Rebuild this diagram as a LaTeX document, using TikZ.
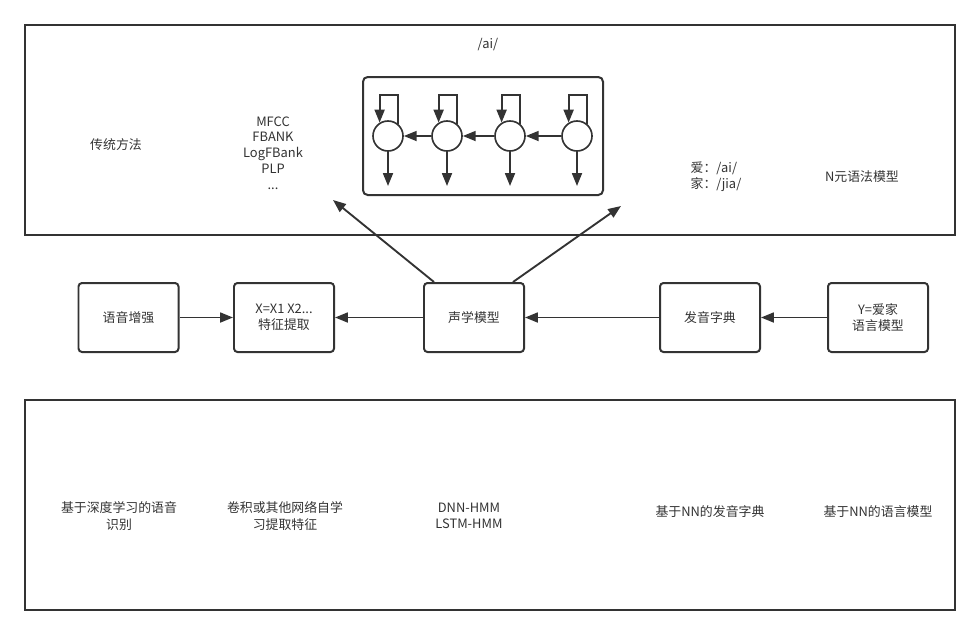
\documentclass[tikz,border=0pt]{standalone}
\usepackage{fontspec}
\setmainfont{Noto Sans CJK SC}
\usetikzlibrary{arrows.meta,calc}

\definecolor{ink}{HTML}{333333}

\tikzset{
  arr/.style={-{Triangle[length=11pt,width=8.5pt]}, line width=1.6pt, draw=ink},
  stage/.style={draw=ink, line width=1.7pt, rounded corners=3pt, minimum width=3cm,
    minimum height=2.07cm, align=center, text=ink, font=\fontsize{11}{14}\selectfont},
  label/.style={align=center, text=ink, font=\fontsize{11}{14}\selectfont},
  state/.style={circle, draw=ink, line width=1.4pt, minimum size=0.9cm, inner sep=0pt}
}

\begin{document}
\begin{tikzpicture}[x=0.03cm, y=-0.03cm]
        \useasboundingbox (0,0) rectangle (978,635);

        % Outer frames
        \draw[ink, line width=1.8pt] (25,25) rectangle (955,235);
        \draw[ink, line width=1.8pt] (25,400) rectangle (955,610);

        % Traditional method
        \node[label] (trad) at (116,145) {传统方法};
        \node[label, font=\fontsize{11}{13.5}\selectfont] (feat) at (273,153) {MFCC\\FBANK\\LogFBank\\PLP\\...};
        \node[label] (phone) at (488,45) {/ai/};
        \node[label, align=left] (lex) at (716,177) {爱：/ai/\\家：/jia/};
        \node[label] (ngram) at (862,177) {N元语法模型};

        % HMM chain
        \draw[ink, line width=1.7pt, rounded corners=4pt] (363,77) rectangle (603,195);
        \node[state] (s1) at (388,136) {};
        \node[state] (s2) at (447,136) {};
        \node[state] (s3) at (510,136) {};
        \node[state] (s4) at (577,136) {};
        \draw[arr] (s4) -- (s3);
        \draw[arr] (s3) -- (s2);
        \draw[arr] (s2) -- (s1);
        \draw[arr] (s1.50) |- ([yshift=0.75cm]s1.north -| s1.122) -- (s1.122);
        \draw[arr] (s2.50) |- ([yshift=0.75cm]s2.north -| s2.122) -- (s2.122);
        \draw[arr] (s3.50) |- ([yshift=0.75cm]s3.north -| s3.122) -- (s3.122);
        \draw[arr] (s4.50) |- ([yshift=0.75cm]s4.north -| s4.122) -- (s4.122);
        \coordinate (o1) at (388,186);
        \coordinate (o2) at (447,186);
        \coordinate (o3) at (510,186);
        \coordinate (o4) at (577,186);
        \draw[arr] (s1) -- (o1);
        \draw[arr] (s2) -- (o2);
        \draw[arr] (s3) -- (o3);
        \draw[arr] (s4) -- (o4);

        % Pipeline
        \node[stage] (enh) at (128.5,317.5) {语音增强};
        \node[stage] (fx) at (284,317.5) {X=X1 X2...\\特征提取};
        \node[stage] (am) at (474,317.5) {声学模型};
        \node[stage] (dict) at (710,317.5) {发音字典};
        \node[stage] (lm) at (878,317.5) {Y=爱家\\语言模型};
        \draw[arr] (enh) -- (fx);
        \draw[arr] (am) -- (fx);
        \draw[arr] (dict) -- (am);
        \draw[arr] (lm) -- (dict);
        \coordinate (upl) at (333,200);
        \coordinate (upr) at (621,206);
        \draw[arr] ([xshift=0.33cm]am.north west) -- (upl);
        \draw[arr] ([xshift=-0.36cm]am.north east) -- (upr);

        % Deep learning
        \node[label] (deep) at (119,516) {基于深度学习的语音\\识别};
        \node[label] (cnn) at (285,516) {卷积或其他网络自学\\习提取特征};
        \node[label] (hyb) at (469,516) {DNN-HMM\\LSTM-HMM};
        \node[label] (nndict) at (710,512) {基于NN的发音字典};
        \node[label] (nnlm) at (878,512) {基于NN的语言模型};
    \end{tikzpicture}
\end{document}
